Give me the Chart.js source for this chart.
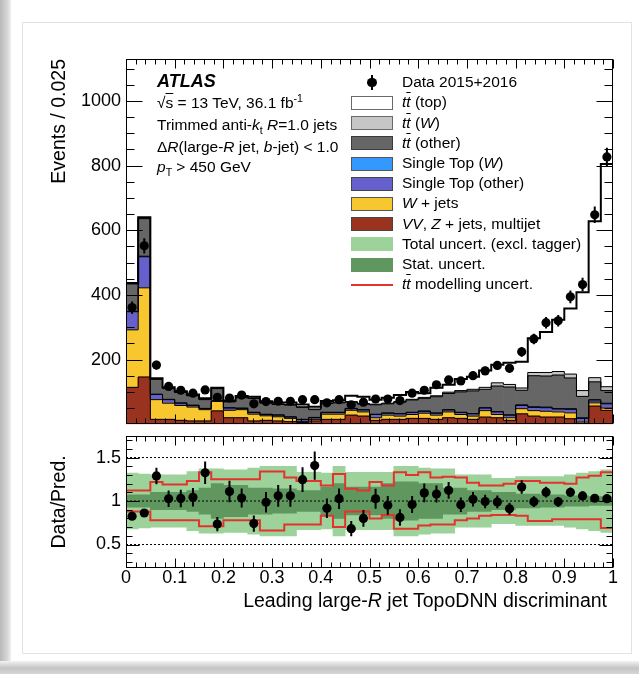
<!DOCTYPE html>
<html>
<head>
<meta charset="utf-8">
<title>Leading large-R jet TopoDNN discriminant</title>
<script src="https://cdn.jsdelivr.net/npm/chart.js@4.4.1/dist/chart.umd.min.js"></script>
<style>
  html, body { margin: 0; padding: 0; background: #fff; }
  #page { position: relative; width: 639px; height: 674px; overflow: hidden;
          font-family: "Liberation Sans", Arial, Helvetica, sans-serif; color: #000; }
  #shadeLeft { position: absolute; left: 0; top: 0; width: 11px; height: 674px;
               background: linear-gradient(to right, #b8b8b8, #d8d8d8 70%, #f2f2f2); }
  #shadeBottom { position: absolute; left: 0; top: 661px; width: 639px; height: 13px;
                 background: linear-gradient(to bottom, #f2f2f2, #c4c4c4 55%, #d6d6d6); }
  #card { position: absolute; left: 22px; top: 22px; width: 608px; height: 630px;
          border: 1px solid #e3e3e3; background: #fff; }
  canvas { position: absolute; left: 0; }
  #mainCanvas { top: 0; }
  #ratioCanvas { top: 420px; }
  .t { position: absolute; white-space: nowrap; font-size: 15.5px; line-height: 18px; }
  .ov { text-decoration: overline; }
  sub, sup { font-size: 68%; line-height: 0; }
  .sw { position: absolute; left: 351px; width: 42px; height: 14px; box-sizing: border-box; }
</style>
</head>
<body>
<div id="page">
  <div id="shadeLeft"></div>
  <div id="card"></div>
  <div id="shadeBottom"></div>
  <canvas id="mainCanvas" width="639" height="440"></canvas>
  <canvas id="ratioCanvas" width="639" height="190"></canvas>
  <div id="texts"></div>
</div>
<script>
// 40 bins of width 0.025 in the TopoDNN discriminant
const binWidth = 0.025;

const dataCounts = [361, 552, 183, 117, 105, 96, 106, 83, 81, 90,
                    63, 70, 71, 71, 76, 76, 66, 76, 60, 68,
                    78, 78, 73, 96, 105, 122, 137, 134, 150, 165,
                    182, 173, 224, 264, 314, 320, 394, 432, 648, 827];

// background stack, bottom to top
const vvZjetsMultijet = [114, 146, 15, 15, 12, 10, 10, 41, 20, 20,
                         10, 12, 10, 8, 5, 10, 15, 15, 28, 25,
                         12, 15, 15, 18, 18, 15, 20, 18, 15, 22,
                         20, 12, 32, 25, 22, 22, 17, 3, 56, 43];
const wJets = [178, 276, 61, 50, 46, 43, 35, 30, 23, 25,
               21, 14, 13, 10, 3, 5, 16, 16, 15, 13,
               8, 13, 10, 12, 16, 13, 18, 12, 10, 20,
               10, 8, 16, 17, 18, 16, 18, 4, 10, 7];
const singleTopOther = [56, 96, 16, 11, 7, 5, 3, 1, 7, 4,
                        5, 4, 5, 4, 6, 5, 5, 5, 5, 6,
                        10, 6, 7, 6, 6, 6, 6, 6, 7, 8,
                        8, 8, 10, 10, 11, 9, 11, 11, 6, 13];
const singleTopW = [1, 2, 1, 1, 1, 1, 1, 0, 1, 1,
                    1, 1, 1, 1, 1, 1, 1, 1, 1, 1,
                    1, 1, 1, 1, 1, 1, 1, 1, 1, 1,
                    1, 1, 2, 2, 2, 1, 2, 2, 4, 2];
const ttOther = [85, 116, 46, 33, 32, 29, 27, 38, 18, 32,
                 43, 34, 32, 36, 37, 24, 27, 29, 19, 17,
                 29, 28, 35, 38, 39, 50, 50, 63, 70, 57,
                 79, 86, 45, 96, 96, 104, 95, 66, 55, 39];
const ttW = [2, 2, 1, 1, 1, 1, 1, 1, 1, 1,
             1, 2, 2, 2, 2, 2, 2, 2, 2, 2,
             2, 2, 2, 2, 3, 3, 4, 4, 5, 6,
             10, 8, 7, 10, 11, 11, 12, 18, 13, 12];
const ttTop = [1, 2, 2, 3, 3, 3, 3, 2, 3, 4,
               4, 4, 4, 6, 7, 7, 6, 6, 18, 21,
               14, 17, 20, 23, 13, 25, 23, 36, 39, 52,
               56, 67, 81, 106, 125, 160, 203, 304, 484, 689];

// ratio panel: relative half widths of the bands and the tt modelling envelope
const totalUncert = [0.32, 0.31, 0.30, 0.30, 0.30, 0.34, 0.37, 0.37, 0.36, 0.36,
                     0.38, 0.40, 0.40, 0.40, 0.33, 0.33, 0.32, 0.40, 0.33, 0.33,
                     0.33, 0.33, 0.40, 0.40, 0.38, 0.37, 0.37, 0.30, 0.30, 0.30,
                     0.26, 0.26, 0.28, 0.28, 0.28, 0.28, 0.30, 0.32, 0.34, 0.36];
const statUncert = [0.07, 0.07, 0.10, 0.10, 0.10, 0.12, 0.15, 0.20, 0.18, 0.18,
                    0.15, 0.15, 0.14, 0.14, 0.12, 0.12, 0.16, 0.20, 0.16, 0.16,
                    0.16, 0.20, 0.22, 0.22, 0.20, 0.20, 0.15, 0.15, 0.12, 0.12,
                    0.10, 0.10, 0.08, 0.08, 0.07, 0.07, 0.06, 0.06, 0.05, 0.05];
const ttModUp = [1.12, 1.12, 1.22, 1.19, 1.19, 1.23, 1.33, 1.25, 1.25, 1.25,
                 1.25, 1.34, 1.34, 1.27, 1.23, 1.23, 1.18, 1.31, 1.14, 1.12,
                 1.22, 1.18, 1.33, 1.30, 1.33, 1.27, 1.28, 1.27, 1.21, 1.18,
                 1.18, 1.20, 1.23, 1.23, 1.21, 1.21, 1.20, 1.27, 1.29, 1.33];
const ttModDown = [0.88, 0.88, 0.78, 0.78, 0.78, 0.78, 0.71, 0.71, 0.78, 0.78,
                   0.78, 0.66, 0.66, 0.73, 0.73, 0.73, 0.83, 0.70, 0.88, 0.88,
                   0.80, 0.84, 0.68, 0.68, 0.72, 0.73, 0.73, 0.78, 0.80, 0.83,
                   0.84, 0.84, 0.83, 0.77, 0.77, 0.79, 0.79, 0.79, 0.79, 0.69];

const mainYTicks = [200, 400, 600, 800, 1000];
const ratioYTicks = [0.5, 1, 1.5];
const ratioRefLines = [0.5, 1, 1.5];
const xTicks = [0, 0.1, 0.2, 0.3, 0.4, 0.5, 0.6, 0.7, 0.8, 0.9, 1];

const fontFamily = '"Liberation Sans", Arial, Helvetica, sans-serif';
Chart.defaults.font.family = fontFamily;
Chart.defaults.color = '#000';

const nBins = dataCounts.length;
const centers = dataCounts.map((_, i) => (i + 0.5) * binWidth);
const asPoints = arr => arr.map((v, i) => ({ x: centers[i], y: v }));
// points on the bin low edges, for stepped outlines
const asSteps = arr => arr.map((v, i) => ({ x: i * binWidth, y: v }))
                          .concat([{ x: nBins * binWidth, y: arr[arr.length - 1] }]);

const layers = [
    { label: 'VV, Z + jets, multijet', values: vvZjetsMultijet, color: '#9a3220' },
    { label: 'W + jets', values: wJets, color: '#f8c730' },
    { label: 'Single Top (other)', values: singleTopOther, color: '#6660cc' },
    { label: 'Single Top (W)', values: singleTopW, color: '#3399ff' },
    { label: 'tt (other)', values: ttOther, color: '#666666' },
    { label: 'tt (W)', values: ttW, color: '#c6c6c6' },
    { label: 'tt (top)', values: ttTop, color: '#ffffff' }
];

// running top of the stack after each layer
const stackTops = [];
layers.forEach((layer, k) => {
    stackTops.push(layer.values.map((v, i) => v + (k ? stackTops[k - 1][i] : 0)));
});
const prediction = stackTops[stackTops.length - 1];

// every value between the labelled ticks, for the small inner ticks
function minorTicks(from, to, step, majors) {
    const out = [];
    for (let v = from; v <= to + 1e-9; v += step) {
        const r = Math.round(v * 1000) / 1000;
        if (!majors.some(m => Math.abs(m - r) < 1e-6)) out.push(r);
    }
    return out;
}

// ROOT style frame with ticks pointing inward on all four sides
const rootFrame = {
    id: 'rootFrame',
    afterDraw(chart, args, opts) {
        const { ctx, chartArea: a } = chart;
        const xs = chart.scales.x, ys = chart.scales.y;
        ctx.save();
        ctx.strokeStyle = '#000';
        ctx.lineWidth = 1;
        const L = Math.round(a.left) + 0.5, R = Math.round(a.right) - 0.5;
        const T = Math.round(a.top) + 0.5, B = Math.round(a.bottom) - 0.5;
        ctx.strokeRect(L, T, R - L, B - T);
        ctx.beginPath();
        const xTick = (v, len) => {
            const px = Math.round(xs.getPixelForValue(v)) + 0.5;
            ctx.moveTo(px, B); ctx.lineTo(px, B - len);
            ctx.moveTo(px, T); ctx.lineTo(px, T + len);
        };
        const yTick = (v, len) => {
            const py = Math.round(ys.getPixelForValue(v)) + 0.5;
            ctx.moveTo(L, py); ctx.lineTo(L + len, py);
            ctx.moveTo(R, py); ctx.lineTo(R - len, py);
        };
        opts.xMajor.forEach(v => xTick(v, opts.xLen[0]));
        opts.xMinor.forEach(v => xTick(v, opts.xLen[1]));
        opts.yMajor.forEach(v => yTick(v, opts.yLen[0]));
        opts.yMinor.forEach(v => yTick(v, opts.yLen[1]));
        ctx.stroke();
        ctx.restore();
    }
};

// vertical error bars for datasets that carry an errorBars array
const errorBars = {
    id: 'errorBars',
    afterDatasetsDraw(chart) {
        const { ctx, chartArea: a } = chart;
        chart.data.datasets.forEach((ds, di) => {
            if (!ds.errorBars) return;
            const meta = chart.getDatasetMeta(di);
            const ys = chart.scales[meta.yAxisID];
            ctx.save();
            ctx.beginPath();
            ctx.rect(a.left, a.top, a.right - a.left, a.bottom - a.top);
            ctx.clip();
            ctx.strokeStyle = '#000';
            ctx.lineWidth = 2;
            ctx.beginPath();
            ds.data.forEach((p, i) => {
                const px = meta.data[i].x;
                ctx.moveTo(px, ys.getPixelForValue(p.y - ds.errorBars[i]));
                ctx.lineTo(px, ys.getPixelForValue(p.y + ds.errorBars[i]));
            });
            ctx.stroke();
            ctx.restore();
        });
    }
};

const xMinorList = minorTicks(0, 1, 0.02, xTicks);

// ---------------- upper panel ----------------
const mainDatasets = [
    {
        type: 'scatter',
        label: 'Data 2015+2016',
        data: asPoints(dataCounts),
        errorBars: dataCounts.map(Math.sqrt),
        pointRadius: 4.6,
        pointBackgroundColor: '#000',
        pointBorderWidth: 0,
        yAxisID: 'yFree'
    }
];
// outline of each stack layer, the total one drawn heavier
for (let k = stackTops.length - 1; k >= 0; k--) {
    mainDatasets.push({
        type: 'line',
        data: asSteps(stackTops[k]),
        stepped: 'before',
        borderColor: '#000',
        borderWidth: k === stackTops.length - 1 ? 2 : 1,
        pointRadius: 0,
        fill: false,
        yAxisID: 'yFree'
    });
}
layers.forEach(layer => {
    mainDatasets.push({
        type: 'bar',
        label: layer.label,
        data: asPoints(layer.values),
        backgroundColor: layer.color,
        borderWidth: 0,
        barPercentage: 1,
        categoryPercentage: 1,
        yAxisID: 'y'
    });
});

new Chart(document.getElementById('mainCanvas'), {
    type: 'bar',
    data: { datasets: mainDatasets },
    plugins: [errorBars, rootFrame],
    options: {
        responsive: false,
        animation: false,
        events: [],
        layout: { padding: { left: 48, top: 59, right: 26, bottom: 11 } },
        plugins: {
            legend: { display: false },
            tooltip: { enabled: false },
            rootFrame: {
                xMajor: xTicks, xMinor: xMinorList, xLen: [9, 5],
                yMajor: mainYTicks, yMinor: minorTicks(50, 1100, 50, mainYTicks), yLen: [16, 8]
            }
        },
        scales: {
            x: { type: 'linear', min: 0, max: 1, offset: false, stacked: true, display: false },
            y: {
                min: 0, max: 1130, stacked: true, position: 'left',
                afterBuildTicks: s => { s.ticks = mainYTicks.map(v => ({ value: v })); },
                afterFit: s => { s.width = 78; },
                grid: { display: false, drawTicks: false },
                border: { display: false },
                ticks: { font: { size: 18 }, padding: 5, color: '#000', callback: v => String(v) },
                title: { display: true, text: 'Events / 0.025', align: 'end',
                         font: { size: 19.5 }, padding: { top: 0, bottom: 0 }, color: '#000' }
            },
            yFree: { min: 0, max: 1130, stacked: false, display: false }
        }
    }
});

// ---------------- ratio panel ----------------
const ratio = dataCounts.map((d, i) => d / prediction[i]);
const ratioErr = dataCounts.map((d, i) => Math.sqrt(d) / prediction[i]);

const ratioDatasets = [
    {
        type: 'scatter',
        data: asPoints(ratio),
        errorBars: ratioErr,
        pointRadius: 4.6,
        pointBackgroundColor: '#000',
        pointBorderWidth: 0,
        yAxisID: 'y'
    }
];
ratioRefLines.forEach(v => {
    ratioDatasets.push({
        type: 'line',
        data: [{ x: 0, y: v }, { x: 1, y: v }],
        borderColor: '#000',
        borderWidth: 1,
        borderDash: [2, 2],
        pointRadius: 0,
        yAxisID: 'y'
    });
});
[ttModUp, ttModDown].forEach(arr => {
    ratioDatasets.push({
        type: 'line',
        data: asSteps(arr),
        stepped: 'before',
        borderColor: '#e2332e',
        borderWidth: 2,
        pointRadius: 0,
        fill: false,
        yAxisID: 'y'
    });
});
ratioDatasets.push({
    type: 'bar',
    label: 'Stat. uncert.',
    data: centers.map((c, i) => ({ x: c, y: [1 - statUncert[i], 1 + statUncert[i]] })),
    backgroundColor: '#5f975f',
    borderWidth: 0,
    barPercentage: 1,
    categoryPercentage: 1,
    yAxisID: 'y'
});
ratioDatasets.push({
    type: 'bar',
    label: 'Total uncert. (excl. tagger)',
    data: centers.map((c, i) => ({ x: c, y: [1 - totalUncert[i], 1 + totalUncert[i]] })),
    backgroundColor: '#9dd29b',
    borderWidth: 0,
    barPercentage: 1,
    categoryPercentage: 1,
    yAxisID: 'y'
});

new Chart(document.getElementById('ratioCanvas'), {
    type: 'bar',
    data: { datasets: ratioDatasets },
    plugins: [errorBars, rootFrame],
    options: {
        responsive: false,
        animation: false,
        events: [],
        layout: { padding: { left: 48, top: 12, right: 26, bottom: 12 } },
        plugins: {
            legend: { display: false },
            tooltip: { enabled: false },
            rootFrame: {
                xMajor: xTicks, xMinor: xMinorList, xLen: [9, 5],
                yMajor: ratioYTicks, yMinor: minorTicks(0.3, 1.7, 0.1, ratioYTicks), yLen: [13, 6]
            }
        },
        scales: {
            x: {
                type: 'linear', min: 0, max: 1, offset: false, stacked: true,
                afterBuildTicks: s => { s.ticks = xTicks.map(v => ({ value: v })); },
                afterFit: s => { s.height = 30; },
                grid: { display: false, drawTicks: false },
                border: { display: false },
                ticks: {
                    font: { size: 18 }, padding: -1, color: '#000', autoSkip: false, maxRotation: 0,
                    callback: v => (v === 0 ? '0' : v === 1 ? '1' : v.toFixed(1))
                }
            },
            y: {
                min: 0.23, max: 1.75, stacked: false,
                afterBuildTicks: s => { s.ticks = ratioYTicks.map(v => ({ value: v })); },
                afterFit: s => { s.width = 78; },
                grid: { display: false, drawTicks: false },
                border: { display: false },
                ticks: { font: { size: 18 }, padding: 5, color: '#000', callback: v => String(v) },
                title: { display: true, text: 'Data/Pred.', font: { size: 19.5 },
                         padding: { top: 0, bottom: 0 }, color: '#000' }
            }
        }
    }
});

// ---------------- text: labels, legend, axis title ----------------
const texts = document.getElementById('texts');
function addText(html, left, centerY, style) {
    const d = document.createElement('div');
    d.className = 't';
    d.innerHTML = html;
    d.style.left = left + 'px';
    d.style.top = (centerY - 9.5) + 'px';
    if (style) Object.assign(d.style, style);
    texts.appendChild(d);
    return d;
}

addText('ATLAS', 157, 81, { fontWeight: 'bold', fontStyle: 'italic', fontSize: '18px' });
addText('&radic;<span class="ov">s</span> = 13 TeV, 36.1 fb<sup>-1</sup>', 157, 103);
addText('Trimmed anti-<i>k</i><sub>t</sub> <i>R</i>=1.0 jets', 157, 125.5);
addText('&Delta;<i>R</i>(large-<i>R</i> jet, <i>b</i>-jet) &lt; 1.0', 157, 147);
addText('<i>p</i><sub>T</sub> &gt; 450 GeV', 157, 167.5);

const ttbar = '<i>t</i><i class="ov">t</i>';
const legendRows = [
    { html: 'Data 2015+2016', marker: 'data' },
    { html: ttbar + ' (top)', fill: '#ffffff', edge: '#6a6a6a' },
    { html: ttbar + ' (<i>W</i>)', fill: '#c6c6c6', edge: '#6a6a6a' },
    { html: ttbar + ' (other)', fill: '#666666', edge: '#3a3a3a' },
    { html: 'Single Top (<i>W</i>)', fill: '#3399ff', edge: '#555' },
    { html: 'Single Top (other)', fill: '#6660cc', edge: '#444' },
    { html: '<i>W</i> + jets', fill: '#f8c730', edge: '#555' },
    { html: '<i>VV</i>, <i>Z</i> + jets, multijet', fill: '#9a3220', edge: '#444' },
    { html: 'Total uncert. (excl. tagger)', fill: '#9dd29b' },
    { html: 'Stat. uncert.', fill: '#5f975f' },
    { html: ttbar + ' modelling uncert.', marker: 'line' }
];
legendRows.forEach((row, k) => {
    const cy = 82.7 + k * 20.2;
    addText(row.html, 402, cy);
    const m = document.createElement('div');
    if (row.marker === 'data') {
        m.style.cssText = 'position:absolute;left:371px;top:' + (cy - 7.5) + 'px;width:2px;height:15px;background:#000;';
        texts.appendChild(m);
        const dot = document.createElement('div');
        dot.style.cssText = 'position:absolute;left:' + (372 - 4.6) + 'px;top:' + (cy - 4.6) + 'px;width:9.2px;height:9.2px;border-radius:50%;background:#000;';
        texts.appendChild(dot);
    } else if (row.marker === 'line') {
        m.style.cssText = 'position:absolute;left:351px;top:' + (cy - 1) + 'px;width:42px;height:2px;background:#e2332e;';
        texts.appendChild(m);
    } else {
        m.className = 'sw';
        m.style.top = (cy - 7) + 'px';
        m.style.background = row.fill;
        if (row.edge) m.style.border = '1.5px solid ' + row.edge;
        texts.appendChild(m);
    }
});

const xTitle = addText('Leading large-<i>R</i> jet TopoDNN discriminant', 0, 600,
                       { fontSize: '19.5px', lineHeight: '22px', left: 'auto', right: '32px' });
xTitle.style.top = '589px';
</script>
</body>
</html>
